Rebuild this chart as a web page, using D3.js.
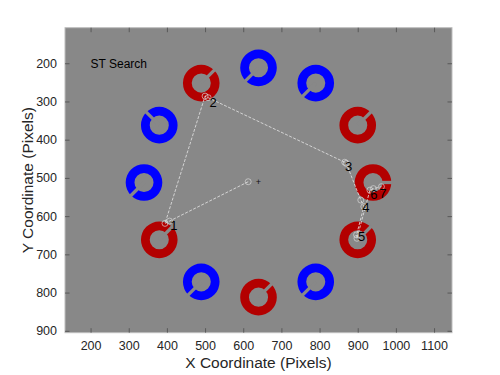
<!DOCTYPE html>
<html>
<head>
<meta charset="utf-8">
<script src="https://cdn.jsdelivr.net/npm/d3@7"></script>
<style>
  body { margin: 0; background: #fff; }
  text { font-family: "Liberation Sans", Arial, sans-serif; }
</style>
</head>
<body>
<div id="chart"></div>
<script>
// stimulus rings (Landolt C), screen coordinates in pixels
const ringX = [940, 900, 790, 640, 490, 380, 340, 380, 490, 640, 790, 900];
const ringY = [512, 362, 252, 212, 252, 362, 512, 662, 772, 812, 772, 662];
const ringColor = ['red', 'red', 'blue', 'blue', 'red', 'blue', 'blue', 'red', 'blue', 'red', 'blue', 'red'];
// direction of the gap, degrees counter-clockwise from the right
const ringGap = [0, 45, 225, 225, 45, 135, 225, 45, 225, 45, 225, 45];

// gaze samples in order, first one is the start
const gazeX = [613, 407, 395, 500, 508, 866, 870, 908, 916, 897, 898, 932, 941, 962];
const gazeY = [510, 613, 619, 286, 290, 459, 462, 558, 575, 649, 658, 532, 528, 523];

// fixation numbers and where their labels sit
const fixLabel = ['1', '2', '3', '4', '5', '6', '7'];
const fixX = [418, 521, 876, 921, 910, 942, 966];
const fixY = [625, 304, 469, 577, 653, 543, 540];

const centre = [640, 512];
const xTicks = [200, 300, 400, 500, 600, 700, 800, 900, 1000, 1100];
const yTicks = [200, 300, 400, 500, 600, 700, 800, 900];

const width = 500;
const height = 375;
const plot = { left: 65, right: 452, top: 27.7, bottom: 332.7 };
const bg = '#888888';
const colors = { red: '#b30000', blue: '#0000ff' };

const x = d3.scaleLinear().domain([133, 1147]).range([plot.left, plot.right]);
const y = d3.scaleLinear().domain([107, 905]).range([plot.top, plot.bottom]);
const unit = x(1) - x(0);

const svg = d3.select('#chart')
  .append('svg')
  .attr('width', width)
  .attr('height', height);

svg.append('rect')
  .attr('x', plot.left)
  .attr('y', plot.top)
  .attr('width', plot.right - plot.left)
  .attr('height', plot.bottom - plot.top)
  .attr('fill', bg);

// rings
const arc = d3.arc()
  .innerRadius(25 * unit)
  .outerRadius(48 * unit)
  .startAngle(0)
  .endAngle(2 * Math.PI);

const rings = svg.append('g')
  .selectAll('g')
  .data(ringX.map((d, i) => i))
  .enter()
  .append('g')
  .attr('transform', i => `translate(${x(ringX[i])},${y(ringY[i])})`);

rings.append('path')
  .attr('d', arc())
  .attr('fill', i => colors[ringColor[i]]);

rings.append('line')
  .attr('x1', 0)
  .attr('y1', 0)
  .attr('x2', i => Math.cos(ringGap[i] * Math.PI / 180) * 52 * unit)
  .attr('y2', i => -Math.sin(ringGap[i] * Math.PI / 180) * 52 * unit)
  .attr('stroke', bg)
  .attr('stroke-width', 3.3);

// centre cross
svg.append('text')
  .attr('x', x(centre[0]))
  .attr('y', y(centre[1]))
  .attr('text-anchor', 'middle')
  .attr('dominant-baseline', 'central')
  .attr('font-size', 9)
  .attr('fill', '#111')
  .text('+');

// gaze path
const line = d3.line()
  .x(i => x(gazeX[i]))
  .y(i => y(gazeY[i]));

svg.append('path')
  .attr('d', line(gazeX.map((d, i) => i)))
  .attr('fill', 'none')
  .attr('stroke', '#e6e6e6')
  .attr('stroke-width', 0.8)
  .attr('stroke-dasharray', '3,1.5');

svg.append('g')
  .selectAll('circle')
  .data(gazeX.map((d, i) => i))
  .enter()
  .append('circle')
  .attr('cx', i => x(gazeX[i]))
  .attr('cy', i => y(gazeY[i]))
  .attr('r', 3)
  .attr('fill', 'none')
  .attr('stroke', '#d9d9d9')
  .attr('stroke-opacity', 0.85)
  .attr('stroke-width', 0.8);

svg.append('g')
  .selectAll('text')
  .data(fixLabel)
  .enter()
  .append('text')
  .attr('x', (d, i) => x(fixX[i]))
  .attr('y', (d, i) => y(fixY[i]))
  .attr('text-anchor', 'middle')
  .attr('dominant-baseline', 'central')
  .attr('font-size', 13)
  .attr('fill', '#000')
  .text(d => d);

// title
svg.append('text')
  .attr('x', x(200))
  .attr('y', y(200) + 4.3)
  .attr('font-size', 12)
  .attr('fill', '#000')
  .text('ST Search');

// axes, MATLAB style box with inward ticks
const tickLen = 4.5;
const frame = svg.append('g');
frame.append('rect')
  .attr('x', plot.left)
  .attr('y', plot.top)
  .attr('width', plot.right - plot.left)
  .attr('height', plot.bottom - plot.top)
  .attr('fill', 'none')
  .attr('stroke', '#bdbdbd')
  .attr('stroke-width', 1);

const fmt = d3.format('d');
const xAxisBottom = d3.axisBottom(x).tickValues(xTicks).tickSize(-tickLen).tickPadding(8).tickFormat(fmt);
const xAxisTop = d3.axisTop(x).tickValues(xTicks).tickSize(-tickLen).tickFormat('');
const yAxisLeft = d3.axisLeft(y).tickValues(yTicks).tickSize(-tickLen).tickPadding(8).tickFormat(fmt);
const yAxisRight = d3.axisRight(y).tickValues(yTicks).tickSize(-tickLen).tickFormat('');

function styleAxis(g) {
  g.select('.domain').remove();
  g.selectAll('.tick line').attr('stroke', '#4d4d4d').attr('stroke-width', 0.8);
  g.selectAll('.tick text')
    .attr('fill', '#262626')
    .attr('font-size', 12.5)
    .attr('font-family', '"Liberation Sans", Arial, sans-serif');
}

svg.append('g').attr('transform', `translate(0,${plot.bottom})`).call(xAxisBottom).call(styleAxis);
svg.append('g').attr('transform', `translate(0,${plot.top})`).call(xAxisTop).call(styleAxis);
svg.append('g').attr('transform', `translate(${plot.left},0)`).call(yAxisLeft).call(styleAxis);
svg.append('g').attr('transform', `translate(${plot.right},0)`).call(yAxisRight).call(styleAxis);

// axis titles
svg.append('text')
  .attr('x', (plot.left + plot.right) / 2)
  .attr('y', 368)
  .attr('text-anchor', 'middle')
  .attr('font-size', 15.5)
  .attr('fill', '#262626')
  .text('X Coordinate (Pixels)');

svg.append('text')
  .attr('transform', `translate(33,${(plot.top + plot.bottom) / 2}) rotate(-90)`)
  .attr('text-anchor', 'middle')
  .attr('font-size', 15.5)
  .attr('fill', '#262626')
  .text('Y Coordinate (Pixels)');
</script>
</body>
</html>
